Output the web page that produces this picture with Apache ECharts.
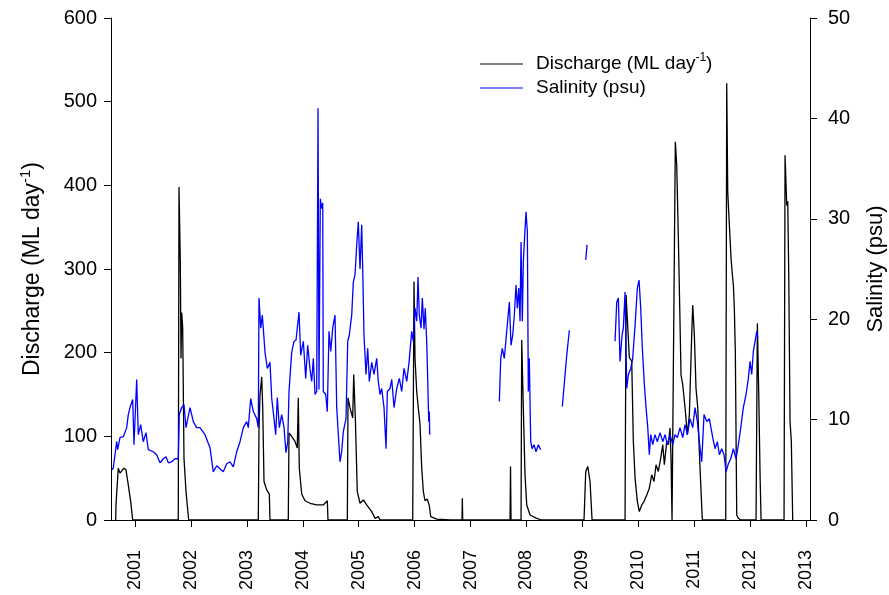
<!DOCTYPE html>
<html>
<head>
<meta charset="utf-8">
<script src="https://cdn.jsdelivr.net/npm/echarts@6/dist/echarts.min.js"></script>
<style>html,body{margin:0;padding:0;background:#fff}#c{width:889px;height:595px}</style>
</head>
<body>
<div id="c"></div>
<script>
// ---- data (decimal years) ----
const yearTicks = [2001,2002,2003,2004,2005,2006,2007,2008,2009,2010,2011,2012,2013];

const dischargeYears = [
2000.655,2000.660,2000.701,2000.732,2000.762,2000.803,2000.839,2000.880,2000.923,2000.959,
2001.774,2001.787,2001.810,2001.823,2001.835,2001.853,2001.876,2001.912,2001.960,
2003.205,2003.217,2003.235,2003.266,2003.284,2003.307,2003.355,2003.402,2003.414,
2003.741,2003.754,2003.802,2003.861,2003.902,2003.920,2003.938,2003.981,2004.040,2004.130,2004.249,2004.367,2004.439,2004.451,
2004.797,2004.809,2004.845,2004.893,2004.911,2004.940,2004.975,2005.024,2005.083,2005.143,2005.233,2005.292,2005.351,2005.381,
2005.966,2005.989,2006.007,2006.038,2006.066,2006.097,2006.127,2006.156,2006.186,2006.227,2006.263,2006.288,2006.395,2006.633,
2006.848,2006.853,2006.860,
2007.706,2007.715,2007.724,
2007.903,2007.915,2007.944,2007.974,2008.005,2008.064,2008.183,2008.273,
2009.029,2009.060,2009.096,2009.137,2009.173,
2009.763,2009.781,2009.811,2009.840,2009.882,2009.911,2009.942,2009.983,2010.018,2010.061,2010.102,2010.151,2010.197,2010.240,2010.281,2010.317,2010.358,2010.401,2010.437,2010.466,2010.508,2010.537,2010.567,2010.585,2010.603,
2010.626,2010.662,2010.687,2010.716,2010.741,2010.764,2010.794,2010.836,2010.877,2010.913,2010.955,2010.973,2011.002,2011.032,2011.063,2011.091,2011.122,2011.145,
2011.563,2011.581,2011.599,2011.628,2011.658,2011.682,2011.700,2011.717,2011.735,2011.760,2011.789,2011.832,
2012.105,2012.129,2012.154,2012.177,2012.195,
2012.606,2012.624,2012.654,2012.672,2012.690,2012.713,2012.736,2012.761
];
const dischargeValues = [
0,18,62,56,54,62,60,42,22,0,
0,398,309,193,248,230,74,34,0,
0,106,149,171,134,46,36,31,0,
0,104,100,94,86,146,62,31,23,20,18,18,23,0,
0,146,134,122,174,122,34,20,24,18,10,2,4,0,
0,285,193,153,134,114,62,34,23,25,17,4,1,0,
0,26,0,
0,64,0,
0,215,134,54,18,6,2,0,
0,58,64,46,0,
0,269,269,194,190,94,50,22,10,18,22,30,38,54,46,66,58,74,90,66,94,90,110,74,0,
0,452,424,337,253,173,162,134,102,126,221,257,221,157,134,82,34,0,
0,522,392,353,313,293,281,253,201,6,2,0,
0,235,149,54,0,
0,436,376,381,293,118,94,0
];

const salinityYears = [
2000.590,2000.612,2000.673,2000.690,2000.732,2000.791,2000.852,2000.880,2000.911,2000.959,2000.982,2001.030,2001.059,2001.102,2001.148,2001.197,2001.238,2001.327,2001.388,2001.447,2001.506,2001.554,2001.596,2001.656,2001.715,2001.746,2001.774,
2001.792,2001.835,2001.876,2001.912,2001.984,2002.043,2002.103,2002.162,2002.252,2002.341,2002.400,2002.461,2002.520,2002.579,2002.640,2002.699,2002.758,2002.819,2002.878,2002.937,2002.998,2003.026,2003.069,2003.116,2003.176,2003.205,
2003.217,2003.248,2003.277,2003.325,2003.366,2003.414,2003.445,2003.486,2003.516,2003.545,2003.581,2003.623,2003.665,2003.700,2003.731,2003.754,2003.802,2003.843,2003.879,2003.910,2003.933,2003.963,2004.010,2004.053,2004.088,2004.130,
2004.160,2004.189,2004.219,2004.249,2004.273,2004.290,2004.314,2004.339,2004.357,2004.367,2004.410,2004.439,2004.469,2004.500,2004.535,2004.577,2004.607,2004.636,2004.666,2004.696,2004.725,2004.773,2004.804,2004.832,2004.875,2004.904,2004.934,2004.965,2004.993,
2005.024,2005.054,2005.072,2005.095,2005.131,2005.161,2005.190,2005.233,2005.274,2005.322,2005.351,2005.381,2005.412,2005.453,2005.489,2005.512,2005.560,2005.591,2005.632,2005.680,2005.727,2005.769,2005.811,2005.859,2005.900,2005.918,2005.948,2005.977,
2006.007,2006.038,2006.061,2006.084,2006.115,2006.138,2006.168,2006.191,2006.216,2006.234,2006.252,2006.263,2006.270,
2006.900,
2007.515,2007.540,2007.568,2007.604,2007.647,2007.694,2007.724,2007.754,2007.783,2007.813,2007.837,2007.862,2007.885,2007.903,2007.926,2007.944,2007.969,2007.992,2008.016,2008.033,2008.051,2008.076,2008.100,2008.135,2008.171,2008.212,2008.255,
2008.450,
2008.641,2008.720,2008.767,
2008.900,
2009.060,2009.083,
2009.300,
2009.584,2009.614,2009.643,2009.673,2009.709,2009.732,2009.763,2009.793,2009.822,2009.865,2009.900,2009.942,2009.983,2010.013,2010.043,2010.072,2010.108,2010.138,2010.169,2010.197,2010.222,2010.258,2010.299,2010.340,2010.389,2010.437,2010.478,2010.519,2010.567,2010.616,2010.657,2010.698,2010.746,2010.794,2010.836,2010.877,2010.925,2010.973,
2011.014,2011.056,2011.091,2011.134,2011.175,2011.224,2011.270,2011.283,2011.331,2011.372,2011.413,2011.449,2011.492,2011.533,2011.569,2011.610,2011.653,2011.700,2011.748,2011.789,2011.832,2011.878,2011.926,2011.968,2011.998,2012.028,2012.057,2012.087,2012.118,2012.136
];
const salinityValues = [
5.0,5.2,7.8,7.0,8.2,8.3,9.2,10.5,11.2,12.0,7.5,14.0,8.5,9.5,7.8,8.7,7.0,6.8,6.5,5.7,6.1,6.3,5.7,5.8,6.1,6.0,6.1,
10.5,11.2,11.5,9.2,11.2,9.8,9.2,9.2,8.5,7.2,4.8,5.4,5.1,4.8,5.6,5.8,5.3,6.8,7.8,9.2,9.8,9.2,12.1,10.8,10.1,9.2,
22.1,19.1,20.4,16.7,15.1,15.7,12.1,10.1,8.5,12.2,9.2,10.5,9.2,6.7,7.8,12.8,16.7,17.8,17.9,17.9,20.7,16.4,17.8,14.1,17.4,15.0,
13.8,16.1,12.5,12.8,41.0,13.0,32.0,31.0,31.6,12.8,12.5,10.8,18.8,16.8,19.1,20.4,11.2,8.5,5.8,6.8,8.8,10.1,17.8,18.4,20.4,23.7,24.4,27.4,29.7,
25.0,29.4,25.0,18.4,14.5,17.1,13.8,15.7,14.5,16.1,13.8,12.5,13.1,11.2,7.1,12.8,13.1,14.0,11.2,13.1,14.1,12.8,15.1,13.8,15.7,15.7,18.8,17.8,
21.1,19.8,24.2,20.4,19.1,22.1,19.0,21.1,17.8,14.1,9.8,10.8,8.5,
null,
11.8,16.1,17.1,16.1,18.8,21.7,17.4,18.4,20.4,23.4,21.1,23.1,19.8,27.7,19.8,25.7,28.4,30.7,28.7,12.8,16.1,7.8,7.1,7.5,6.8,7.5,7.0,
null,
11.3,16.4,18.9,
null,
25.9,27.4,
null,
17.8,21.7,22.1,15.8,18.4,19.1,22.7,13.1,14.5,15.1,16.1,19.4,23.1,23.9,21.1,17.1,13.5,11.2,9.2,6.5,8.5,7.5,8.5,7.8,8.7,7.8,8.5,7.5,8.5,7.5,8.5,8.2,9.2,8.2,9.5,8.5,10.1,9.2,
11.2,9.8,7.8,5.8,10.5,9.8,10.1,10.0,8.2,7.1,7.8,6.5,7.1,6.5,4.8,5.6,6.1,7.1,6.1,7.5,9.2,11.2,12.5,14.1,15.8,14.5,16.8,17.8,18.8,18.1
];

const dischargeData = dischargeYears.map((y, i) => [y, dischargeValues[i]]);
const salinityData = salinityYears.map((y, i) => [y, salinityValues[i]]);

const FONT = 'Liberation Sans, Arial, sans-serif';
const chart = echarts.init(document.getElementById('c'), null, {renderer: 'canvas'});
chart.setOption({
  animation: false,
  backgroundColor: '#fff',
  grid: {left: 111, right: 79, top: 18, bottom: 75, containLabel: false, outerBoundsMode: 'none'},
  legend: {
    orient: 'vertical', left: 475, top: 47, itemGap: 5,
    icon: 'rect', itemWidth: 43, itemHeight: 1,
    textStyle: {fontFamily: FONT, fontSize: 19, color: '#000', padding: [0, 0, 0, 8],
      rich: {sup: {fontSize: 12, fontFamily: FONT, color: '#000', padding: [0, 0, 12, 0]}}},
    formatter: function (n) { return n === 'Discharge' ? 'Discharge (ML day{sup|-1})' : 'Salinity (psu)'; },
    data: ['Discharge', 'Salinity']
  },
  xAxis: {
    type: 'value', min: 2000.571, max: 2013.07,
    axisLine: {show: true, lineStyle: {color: '#000', width: 1}},
    axisTick: {show: true, customValues: yearTicks, length: 7, lineStyle: {color: '#000'}},
    axisLabel: {customValues: yearTicks, rotate: 90, margin: 30, fontFamily: FONT, fontSize: 18, color: '#000',
      formatter: v => String(Math.round(v))},
    splitLine: {show: false}
  },
  yAxis: [
    {
      type: 'value', min: 0, max: 600, interval: 100, position: 'left',
      axisLine: {show: true, lineStyle: {color: '#000'}},
      axisTick: {show: true, length: 7, lineStyle: {color: '#000'}},
      axisLabel: {margin: 14, fontFamily: FONT, fontSize: 20, color: '#000'},
      splitLine: {show: false},
      name: 'Discharge (ML day{sup|-1})', nameLocation: 'middle', nameRotate: 90, nameGap: 64,
      nameTextStyle: {fontFamily: FONT, fontSize: 23, color: '#000',
        rich: {sup: {fontSize: 15, fontFamily: FONT, color: '#000', padding: [0, 0, 14, 0]}}}
    },
    {
      type: 'value', min: 0, max: 50, interval: 10, position: 'right',
      axisLine: {show: true, lineStyle: {color: '#000'}},
      axisTick: {show: true, length: 7, lineStyle: {color: '#000'}},
      axisLabel: {margin: 18, fontFamily: FONT, fontSize: 20, color: '#000'},
      splitLine: {show: false},
      name: 'Salinity (psu)', nameLocation: 'middle', nameRotate: 90, nameGap: 55,
      nameTextStyle: {fontFamily: FONT, fontSize: 22, color: '#000'}
    }
  ],
  series: [
    {name: 'Discharge', type: 'line', yAxisIndex: 0, data: dischargeData, showSymbol: false, symbol: 'none',
     lineStyle: {color: '#000', width: 1.3}, itemStyle: {color: '#000'}},
    {name: 'Salinity', type: 'line', yAxisIndex: 1, data: salinityData, showSymbol: false, symbol: 'none', connectNulls: false,
     lineStyle: {color: '#0000ff', width: 1.3}, itemStyle: {color: '#0000ff'}}
  ]
});
</script>
</body>
</html>
